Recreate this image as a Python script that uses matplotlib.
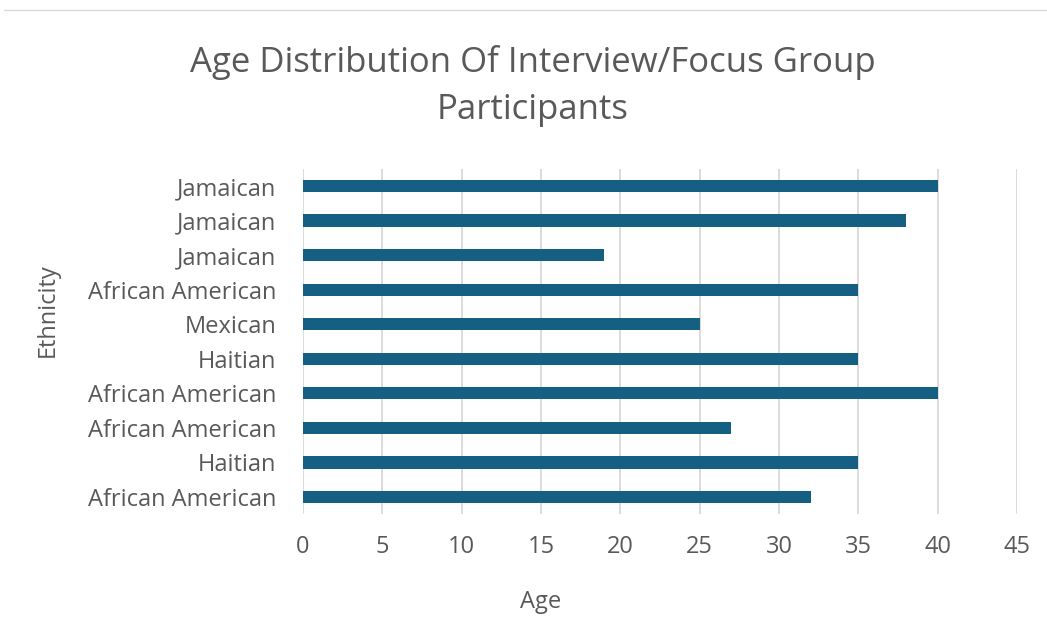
import matplotlib
matplotlib.use('Agg')
from matplotlib import pyplot as plt
from matplotlib.lines import Line2D

plt.rcParams['font.family'] = ['Open Sans', 'DejaVu Sans']

# bottom to top, as drawn
ethnicity = ['African American', 'Haitian', 'African American', 'African American',
             'Haitian', 'Mexican', 'African American', 'Jamaican', 'Jamaican', 'Jamaican']
age = [32, 35, 27, 40, 35, 25, 35, 19, 38, 40]
x_ticks = [0, 5, 10, 15, 20, 25, 30, 35, 40, 45]

bar_color = '#156082'
text_color = '#595959'
grid_color = '#d9d9d9'

fig = plt.figure(figsize=(10.47, 6.39), dpi=100)
ax = fig.add_axes([0.2894, 0.1951, 0.6819, 0.5409])

pos = list(range(len(ethnicity)))
ax.barh(pos, age, height=0.35, color=bar_color, zorder=3)

ax.set_xlim(0, 45)
ax.set_ylim(-0.5, len(ethnicity) - 0.5)
ax.set_xticks(x_ticks)
ax.set_xticklabels([str(t) for t in x_ticks])
ax.set_yticks(pos)
ax.set_yticklabels(ethnicity)
ax.tick_params(axis='both', length=0, labelsize=17, colors=text_color)
ax.tick_params(axis='x', pad=15)
ax.tick_params(axis='y', pad=19)

ax.grid(axis='x', color=grid_color, linewidth=1.3, zorder=0)
for s in ax.spines.values():
    s.set_visible(False)

fig.text(0.509, 0.902, 'Age Distribution Of Interview/Focus Group',
         ha='center', va='center', fontsize=25, color=text_color)
fig.text(0.509, 0.828, 'Participants',
         ha='center', va='center', fontsize=25, color=text_color)
fig.text(0.516, 0.058, 'Age', ha='center', va='center', fontsize=17, color=text_color)
fig.text(0.046, 0.515, 'Ethnicity', ha='center', va='center', fontsize=17,
         color=text_color, rotation=90)

# thin border line at top of the image
fig.add_artist(Line2D([0.004, 1.0], [0.984, 0.984], color='#d9d9d9', linewidth=1,
                      transform=fig.transFigure))

fig.savefig('out.png', dpi=100)
